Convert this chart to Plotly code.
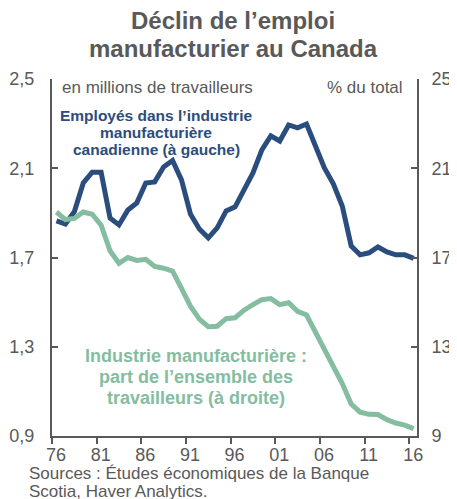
import plotly.graph_objects as go

# ---------------- data ----------------
years = list(range(1976, 2017))
employment_millions = [
    1.864, 1.850, 1.905, 2.034, 2.082, 2.082, 1.877, 1.846, 1.913, 1.945,
    2.034, 2.039, 2.106, 2.135, 2.048, 1.895, 1.828, 1.788, 1.833, 1.909,
    1.927, 2.003, 2.079, 2.182, 2.245, 2.222, 2.294, 2.281, 2.298, 2.200,
    2.101, 2.030, 1.931, 1.752, 1.712, 1.721, 1.747, 1.725, 1.712, 1.712,
    1.696,
]
share_pct = [
    19.04, 18.70, 18.75, 19.04, 18.94, 18.45, 17.30, 16.74, 17.00, 16.87,
    16.92, 16.60, 16.52, 16.39, 15.62, 14.82, 14.24, 13.90, 13.92, 14.26,
    14.30, 14.64, 14.89, 15.11, 15.16, 14.89, 14.97, 14.59, 14.42, 13.65,
    12.89, 12.08, 11.35, 10.43, 10.07, 9.97, 9.96, 9.73, 9.58, 9.49,
    9.33,
]
x_tickvals = [1976, 1981, 1986, 1991, 1996, 2001, 2006, 2011, 2016]
x_ticktext = ["76", "81", "86", "91", "96", "01", "06", "11", "16"]
left_ticks = [0.9, 1.3, 1.7, 2.1, 2.5]
right_ticks = [9, 13, 17, 21, 25]

title_lines = ["Déclin de l’emploi", "manufacturier au Canada"]
blue_label = ["Employés dans l’industrie", "manufacturière", "canadienne (à gauche)"]
green_label = ["Industrie manufacturière :", "part de l’ensemble des", "travailleurs (à droite)"]
source_lines = ["Sources : Études économiques de la Banque", "Scotia, Haver Analytics."]

# annual values plotted at mid-year
x_mid = [y + 0.5 for y in years]

# ---------------- style ----------------
BLUE = "#2B4D7E"
GREEN = "#84BD9F"
GREY = "#595959"
FONT = "Liberation Sans, Arial, sans-serif"

PAGE_W, PAGE_H = 457, 499
BODY = 8                      # default page body margin
W, H = PAGE_W - BODY, PAGE_H - BODY
# plot area in page pixels
PL, PR, PT, PB = 52, 417, 79, 436
L, T = PL - BODY, PT - BODY
R, B = PAGE_W - PR, PAGE_H - PB
PW, PH = PR - PL, PB - PT


def px(x):
    return (x - PL) / PW


def py(y):
    return (PB - y) / PH


fig = go.Figure()
fig.add_trace(go.Scatter(x=x_mid, y=employment_millions, mode="lines",
                         line=dict(color=BLUE, width=5), yaxis="y",
                         hoverinfo="skip", showlegend=False))
fig.add_trace(go.Scatter(x=x_mid, y=share_pct, mode="lines",
                         line=dict(color=GREEN, width=5), yaxis="y2",
                         hoverinfo="skip", showlegend=False))

annotations = []


def add_text(text, x, y, size, color, bold=False, xanchor="center"):
    t = f"<b>{text}</b>" if bold else text
    annotations.append(dict(text=t, x=px(x), y=py(y), xref="paper", yref="paper",
                            xanchor=xanchor, yanchor="middle", showarrow=False,
                            borderpad=0,
                            font=dict(family=FONT, size=size, color=color)))


add_text(title_lines[0], 233, 21, 24, GREY, bold=True)
add_text(title_lines[1], 233, 48, 24, GREY, bold=True)
add_text("en millions de travailleurs", 61, 87, 17, GREY, xanchor="left")
add_text("% du total", 404, 87, 17, GREY, xanchor="right")
for i, line in enumerate(blue_label):
    add_text(line, 156, 115 + i * 17.3, 15.5, BLUE, bold=True)
for i, line in enumerate(green_label):
    add_text(line, 196, 356 + i * 20.8, 18, GREEN, bold=True)
for i, line in enumerate(source_lines):
    add_text(line, 28, 473 + i * 19, 17, GREY, xanchor="left")

axis_common = dict(showgrid=False, zeroline=False, showline=True, linecolor=GREY,
                   linewidth=2, ticklen=6, tickwidth=1.5, tickcolor=GREY,
                   automargin=False, tickfont=dict(size=18, color=GREY))

fig.update_layout(
    width=W, height=H,
    margin=dict(l=L, r=R, t=T, b=B, pad=0, autoexpand=False),
    paper_bgcolor="white", plot_bgcolor="white",
    separators=", ",
    font=dict(family=FONT, color=GREY, size=18),
    xaxis=dict(range=[1976, 2016.87], tickvals=x_tickvals, ticktext=x_ticktext,
               ticks="outside", ticklabelstandoff=-5, ticklabelshift=4,
               **axis_common),
    yaxis=dict(range=[0.9, 2.5], tickvals=left_ticks, tickformat=".1f",
               ticks="inside", ticklabelstandoff=12, **axis_common),
    yaxis2=dict(range=[9, 25], tickvals=right_ticks, overlaying="y", side="right",
                ticks="inside", ticklabelstandoff=9, **axis_common),
    annotations=annotations,
)

fig.write_html("out.html")
